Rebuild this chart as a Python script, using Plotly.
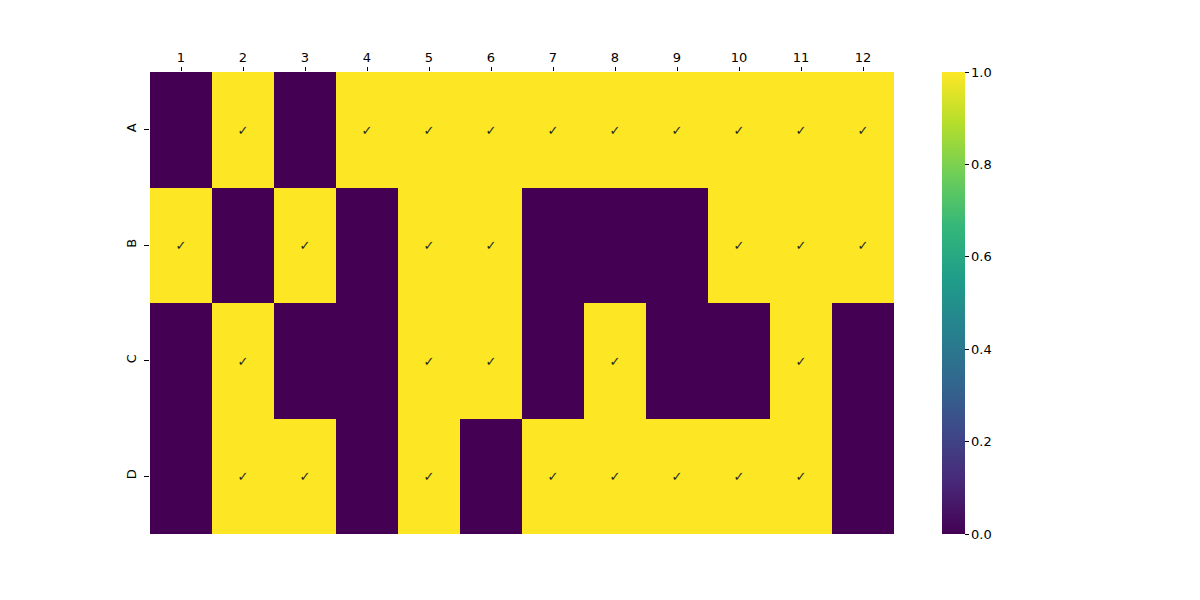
import plotly.graph_objects as go

rows = ["A", "B", "C", "D"]
cols = [str(i) for i in range(1, 13)]
row_A = [0, 1, 0, 1, 1, 1, 1, 1, 1, 1, 1, 1]
row_B = [1, 0, 1, 0, 1, 1, 0, 0, 0, 1, 1, 1]
row_C = [0, 1, 0, 0, 1, 1, 0, 1, 0, 0, 1, 0]
row_D = [0, 1, 1, 0, 1, 0, 1, 1, 1, 1, 1, 0]
z = [row_A, row_B, row_C, row_D]
text = [["✓" if v == 1 else "" for v in r] for r in z]

fig = go.Figure(go.Heatmap(
    z=z, x=cols, y=rows, text=text, texttemplate="%{text}",
    textfont=dict(family="DejaVu Sans", size=13, color="#262626"),
    colorscale="Viridis", zmin=0, zmax=1, xgap=0, ygap=0,
    colorbar=dict(x=(941 - 150) / 743, xanchor="left", xpad=0, ypad=0,
                  thickness=23, thicknessmode="pixels", len=1, lenmode="fraction",
                  y=0.5, yanchor="middle", outlinewidth=0,
                  tickvals=[0, 0.2, 0.4, 0.6, 0.8, 1.0],
                  ticktext=["0.0", "0.2", "0.4", "0.6", "0.8", "1.0"],
                  ticks="outside", ticklen=4, tickwidth=1, tickcolor="black",
                  tickfont=dict(family="DejaVu Sans", size=13, color="black")),
    hoverinfo="skip",
))

fig.update_layout(
    width=1200, height=600,
    margin=dict(l=150, r=306, t=72, b=66),
    plot_bgcolor="white", paper_bgcolor="white",
    font=dict(family="DejaVu Sans", size=13, color="black"),
    xaxis=dict(side="top", type="category", ticks="outside", ticklen=4, tickwidth=1,
               tickcolor="black", showgrid=False, zeroline=False, showline=False,
               tickfont=dict(size=13), tickangle=0),
    yaxis=dict(type="category", autorange="reversed", ticks="outside", ticklen=5,
               tickwidth=1, tickcolor="black", showgrid=False, zeroline=False,
               showline=False, tickangle=-90, tickfont=dict(size=13),
               ticklabelstandoff=3),
)

fig.write_html("out.html")
